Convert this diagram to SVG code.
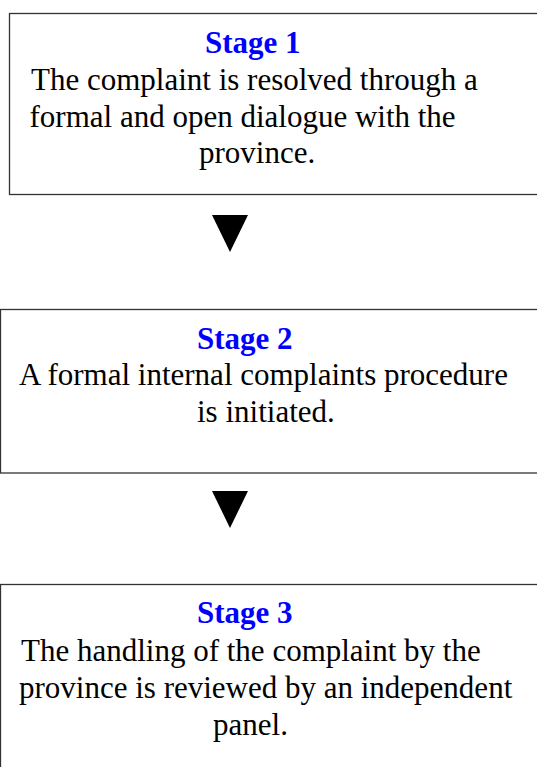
<svg xmlns="http://www.w3.org/2000/svg" width="537" height="767" viewBox="0 0 537 767">
<style>
.box{fill:#fff;stroke:#333;stroke-width:1.3}
.st{font-family:"Liberation Serif","Times New Roman",serif;font-weight:bold;font-size:31px;fill:#0000ff}
.tx{font-family:"Liberation Serif","Times New Roman",serif;font-size:31px;fill:#000}
.arr{fill:#000}
</style>
<rect width="537" height="767" fill="#fff"/>
<g id="stage1">
<rect class="box" x="9.5" y="13.5" width="540" height="181"/>
<text class="st" x="205" y="53">Stage 1</text>
<text class="tx" x="31" y="90">The complaint is resolved through a</text>
<text class="tx" x="29.5" y="127">formal and open dialogue with the</text>
<text class="tx" x="199" y="163">province.</text>
</g>
<g id="stage2">
<rect class="box" x="0.5" y="309.5" width="550" height="163.5"/>
<text class="st" x="197" y="349">Stage 2</text>
<text class="tx" x="19" y="385">A formal internal complaints procedure</text>
<text class="tx" x="197" y="422">is initiated.</text>
</g>
<g id="stage3">
<rect class="box" x="0.5" y="584.5" width="550" height="200"/>
<text class="st" x="197" y="623">Stage 3</text>
<text class="tx" x="21" y="661">The handling of the complaint by the</text>
<text class="tx" x="19" y="698">province is reviewed by an independent</text>
<text class="tx" x="213" y="735">panel.</text>
</g>
<g id="connectors">
<polygon class="arr" points="212,215 248,215 230,252"/>
<polygon class="arr" points="212,491 248,491 230,528"/>
</g>
</svg>
